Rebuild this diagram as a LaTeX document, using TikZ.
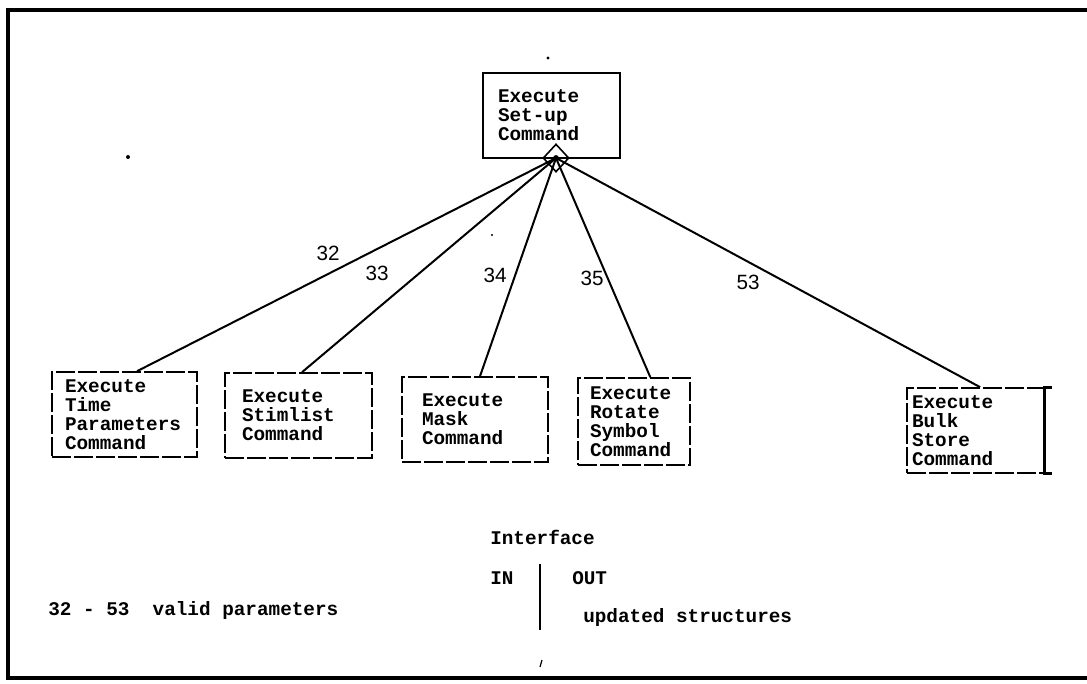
\documentclass[tikz,border=0pt]{standalone}
\usepackage{fontspec}
\setmonofont{Liberation Mono}
\newfontfamily\handfont{Liberation Sans}
\usetikzlibrary{shapes.geometric,calc}
\begin{document}
\begin{tikzpicture}[x=0.75pt,y=-0.75pt,
  tt/.style={font=\ttfamily\bfseries\fontsize{14.5}{14.25}\selectfont},
  cmdbox/.style={tt, draw, rectangle, line width=1.3pt, dash pattern=on 14pt off 2.5pt,
    align=left, inner ysep=0pt, minimum height=63.75pt},
  topbox/.style={cmdbox, solid, line width=1.5pt},
  link/.style={line width=1.5pt},
  numlabel/.style={font=\handfont\fontsize{15.5}{16}\selectfont, inner sep=0pt},
  legend/.style={tt, inner sep=0pt, anchor=west},
  speck/.style={fill=black}]
% page and frame
\useasboundingbox (0,0) rectangle (1087,683);
\fill[white] (0,0) rectangle (1087,683);
\draw[line width=2.4pt, line join=miter] (1087,10) -- (8,10) -- (8,678) -- (1087,678);

% top command box and its branching diamond
\node[topbox, minimum width=102.75pt, inner xsep=11.25pt, text width=80.25pt] (setup) at (551.5,115.5)
  {Execute\\Set-up\\Command};
\node[draw, diamond, line width=1.2pt, minimum width=19.5pt, minimum height=21pt, inner sep=0pt] (dia) at (556,158) {};
\fill (dia.center) circle (2.2pt);

% sub-command boxes
\node[cmdbox, minimum width=108.75pt, inner xsep=9.75pt, text width=89.25pt] (tp) at (124.5,414.5)
  {Execute\\Time\\Parameters\\Command};
\node[cmdbox, minimum width=110.25pt, inner xsep=12.75pt, text width=84.75pt] (sl) at (298.5,415.5)
  {Execute\\Stimlist\\Command};
\node[cmdbox, minimum width=109.5pt, inner xsep=15pt, text width=79.5pt] (mk) at (475,419.5)
  {Execute\\Mask\\Command};
\node[cmdbox, minimum width=84pt, minimum height=65.25pt, inner xsep=9pt, text width=66pt] (rs) at (634,421.5)
  {Execute\\Rotate\\Symbol\\Command};
\node[cmdbox, minimum width=102.75pt, inner xsep=3.75pt, text width=95.25pt] (bs) at (975.5,430.5)
  {Execute\\Bulk\\Store\\Command};
\draw[line width=2.4pt] ([xshift=5pt]bs.north east) -- (bs.north east) -- (bs.south east) -- ([xshift=5pt]bs.south east);

% connectors from the diamond
\draw[link] (dia.center) -- ($(tp.north west)!0.586!(tp.north east)$);
\draw[link] (dia.center) -- ($(sl.north west)!0.524!(sl.north east)$);
\draw[link] (dia.center) -- ($(mk.north west)!0.534!(mk.north east)$);
\draw[link] (dia.center) -- ($(rs.north west)!0.643!(rs.north east)$);
\draw[link] (dia.center) -- ($(bs.north west)!0.533!(bs.north east)$);

% parameter numbers
\node[numlabel] (n32) at (328,253) {32};
\node[numlabel] (n33) at (377,273) {33};
\node[numlabel] (n34) at (495,275) {34};
\node[numlabel] (n35) at (592,278) {35};
\node[numlabel] (n53) at (748,282) {53};

% interface legend
\node[legend] (iface) at (490,537) {Interface};
\node[legend] (in) at (490,578) {IN};
\node[legend] (out) at (572,578) {OUT};
\node[legend] (upd) at (583,617) {updated structures};
\node[legend] (valid) at (48,610) {32 - 53\ \ valid parameters};
\coordinate (bartop) at (540,564);
\coordinate (barbot) at (540,630);
\draw[line width=1.8pt] (bartop) -- (barbot);

% small marks on the sheet
\fill[speck] (548,58) circle (1.2pt);
\fill[speck] (128,157) circle (1.5pt);
\fill[speck] (492,235) circle (0.9pt);
\draw[line width=0.9pt] (542,660) -- (540,667);
\end{tikzpicture}
\end{document}
